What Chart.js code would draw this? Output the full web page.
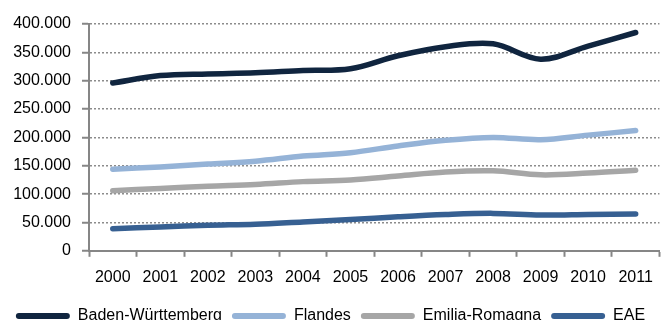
<!DOCTYPE html>
<html>
<head>
<meta charset="utf-8">
<script src="https://cdn.jsdelivr.net/npm/chart.js@4/dist/chart.umd.min.js"></script>
<style>
  html, body { margin: 0; padding: 0; background: #fff; overflow: hidden; }
  #wrap { width: 664px; height: 334px; position: relative; }
</style>
</head>
<body>
<div id="wrap"><canvas id="myChart"></canvas></div>
<script>
let years = ['2000', '2001', '2002', '2003', '2004', '2005', '2006', '2007', '2008', '2009', '2010', '2011'];
let baden = [296000, 309000, 312000, 314000, 318000, 321000, 344000, 360000, 365000, 338000, 361000, 385000];
let flandes = [144000, 148000, 153000, 158000, 167000, 173000, 185000, 195000, 200000, 196000, 204000, 212000];
let emilia = [106000, 110000, 114000, 117000, 122000, 125000, 132000, 139000, 141000, 134000, 137000, 142000];
let eae = [39000, 42000, 45000, 47000, 51000, 55000, 60000, 64000, 66000, 63000, 64000, 65000];
let seriesNames = ['Baden-Württemberg', 'Flandes', 'Emilia-Romagna', 'EAE'];
let colors = ['#10253f', '#95b3d7', '#a6a6a6', '#376092'];

function fmt(v) {
    return v.toString().replace(/\B(?=(\d{3})+(?!\d))/g, '.');
}

let font = { family: "'Liberation Sans', Arial, sans-serif", size: 16 };
Chart.defaults.font.family = font.family;
Chart.defaults.font.size = 16;
Chart.defaults.color = '#000';

let ctx = document.getElementById('myChart').getContext('2d');

let datasets = [baden, flandes, emilia, eae].map(function(values, i) {
    return {
        label: seriesNames[i],
        data: values,
        borderColor: colors[i],
        backgroundColor: colors[i],
        borderWidth: 5.5,
        borderCapStyle: 'round',
        pointRadius: 0,
        tension: 0.35,
        fill: false
    };
});

let myChart = new Chart(ctx, {
    type: 'line',
    data: { labels: years, datasets: datasets },
    options: {
        responsive: true,
        maintainAspectRatio: false,
        animation: false,
        layout: { padding: { top: 24, right: 3, left: 0, bottom: 0 } },
        plugins: {
            tooltip: { enabled: false },
            legend: {
                position: 'bottom',
                labels: {
                    font: font,
                    boxWidth: 54,
                    boxHeight: 6,
                    padding: 10,
                    useBorderRadius: true,
                    borderRadius: 3,
                    generateLabels: function(chart) {
                        let items = Chart.defaults.plugins.legend.labels.generateLabels(chart);
                        items.forEach(function(it, i) {
                            it.lineWidth = 0;
                            it.fillStyle = colors[i];
                            it.borderRadius = 3;
                        });
                        return items;
                    }
                }
            }
        },
        scales: {
            x: {
                offset: true,
                border: { color: '#868686', width: 2 },
                grid: {
                    offset: true,
                    drawOnChartArea: false,
                    drawTicks: true,
                    tickLength: 6,
                    tickColor: '#868686',
                    tickWidth: 2
                },
                ticks: { font: font, padding: 11, maxRotation: 0, autoSkip: false }
            },
            y: {
                min: 0,
                max: 400000,
                afterFit: function(scale) { scale.width = 89; },
                border: { color: '#868686', width: 2, dash: [2, 2] },
                grid: {
                    color: '#8c8c8c',
                    lineWidth: 1.5,
                    borderDash: [2, 2],
                    tickLength: 7,
                    tickColor: '#868686',
                    tickWidth: 2,
                    tickBorderDash: []
                },
                ticks: {
                    font: font,
                    stepSize: 50000,
                    padding: 11,
                    callback: function(v) { return fmt(v); }
                }
            }
        }
    }
});
</script>
</body>
</html>
